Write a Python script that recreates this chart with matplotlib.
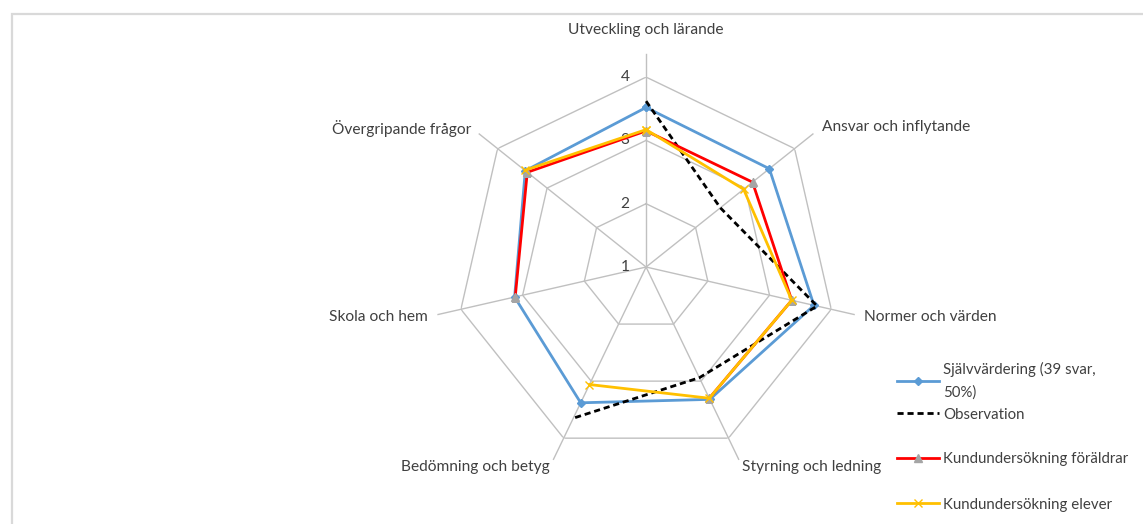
import numpy as np
import matplotlib.pyplot as plt
from matplotlib.patches import Rectangle

plt.rcParams['font.family'] = ['Lato', 'DejaVu Sans']

# Data
kategorier = ['Utveckling och lärande', 'Ansvar och inflytande', 'Normer och värden',
              'Styrning och ledning', 'Bedömning och betyg', 'Skola och hem',
              'Övergripande frågor']
sjalvvardering = [3.52, 3.49, 3.72, 3.32, 3.38, 3.13, 3.44]
observation = [3.62, 2.50, 3.77, 2.94, 3.65, np.nan, np.nan]
foraldrar = [3.15, 3.15, 3.36, 3.30, np.nan, 3.12, 3.40]
elever = [3.17, 2.97, 3.36, 3.30, 3.06, np.nan, 3.45]
ringar = [1, 2, 3, 4]

n = len(kategorier)
vinklar = np.linspace(0, 2 * np.pi, n, endpoint=False)
vinklar_stang = np.append(vinklar, 2 * np.pi)

def stang(v):
    return np.append(v, v[0])

textfarg = '#404040'
fs = 11.2
fs_leg = 10.8

fig = plt.figure(figsize=(11.43, 5.24), dpi=100)
ax = fig.add_axes([0.399, 0.1279, 0.3325, 0.725], projection='polar')
ax.set_theta_zero_location('N')
ax.set_theta_direction(-1)
ax.set_ylim(1, 4)
ax.grid(False)
ax.spines['polar'].set_visible(False)
ax.set_xticks([])
ax.set_yticks([])
ax.patch.set_alpha(0)

gridfarg = '#c0c0c0'
# polygonringar
for r in ringar[1:]:
    ax.plot(vinklar_stang, [r] * (n + 1), color=gridfarg, lw=1, zorder=1)
# ekrar
for v in vinklar:
    ax.plot([v, v], [1, 4.37], color=gridfarg, lw=1, zorder=1, clip_on=False)

# värdeetiketter
for r in ringar:
    ax.annotate(str(r), (0, r), xytext=(-12, 0), textcoords='offset points',
                ha='right', va='center', fontsize=fs, color=textfarg)

# kategorietiketter
etikett_r = [4.74, 4.55, 4.53, 4.5, 4.5, 4.53, 4.52]
etikett_ha = ['center', 'left', 'left', 'left', 'right', 'right', 'right']
for v, namn, r, ha in zip(vinklar, kategorier, etikett_r, etikett_ha):
    ax.text(v, r, namn, ha=ha, va='center', fontsize=fs, color=textfarg,
            clip_on=False)

# serier
l1, = ax.plot(vinklar_stang, stang(sjalvvardering), color='#5b9bd5', lw=2,
              marker='D', ms=4, label='Självvärdering (39 svar,\n50%)', zorder=3)
l2, = ax.plot(vinklar_stang, stang(observation), color='black', lw=2,
              linestyle=(0, (2.2, 1.4)), label='Observation', zorder=4)
l3, = ax.plot(vinklar_stang, stang(foraldrar), color='#ff0000', lw=2,
              marker='^', ms=6, mfc='#a5a5a5', mec='#a5a5a5',
              label='Kundundersökning föräldrar', zorder=5)
l4, = ax.plot(vinklar_stang, stang(elever), color='#ffc000', lw=2,
              marker='x', ms=6, mew=1, label='Kundundersökning elever', zorder=6)

leg1 = fig.legend(handles=[l1, l2], loc='upper left',
                  bbox_to_anchor=(0.785, 0.309), frameon=False, fontsize=fs_leg,
                  labelspacing=0.55, handlelength=2.75, handletextpad=0.3,
                  borderpad=0, borderaxespad=0)
leg2 = fig.legend(handles=[l3, l4], loc='upper left',
                  bbox_to_anchor=(0.785, 0.1374), frameon=False, fontsize=fs_leg,
                  labelspacing=2.1, handlelength=2.75, handletextpad=0.3,
                  borderpad=0, borderaxespad=0)
for leg in (leg1, leg2):
    for t in leg.get_texts():
        t.set_color(textfarg)
leg1.get_texts()[0].set_linespacing(1.7)

# ram
fig.add_artist(Rectangle((12 / 1143, -0.2), 1.2, 510 / 524 + 0.2,
                         transform=fig.transFigure, fill=False,
                         edgecolor='#d9d9d9', lw=1.6))

fig.savefig('out.png', dpi=100)
